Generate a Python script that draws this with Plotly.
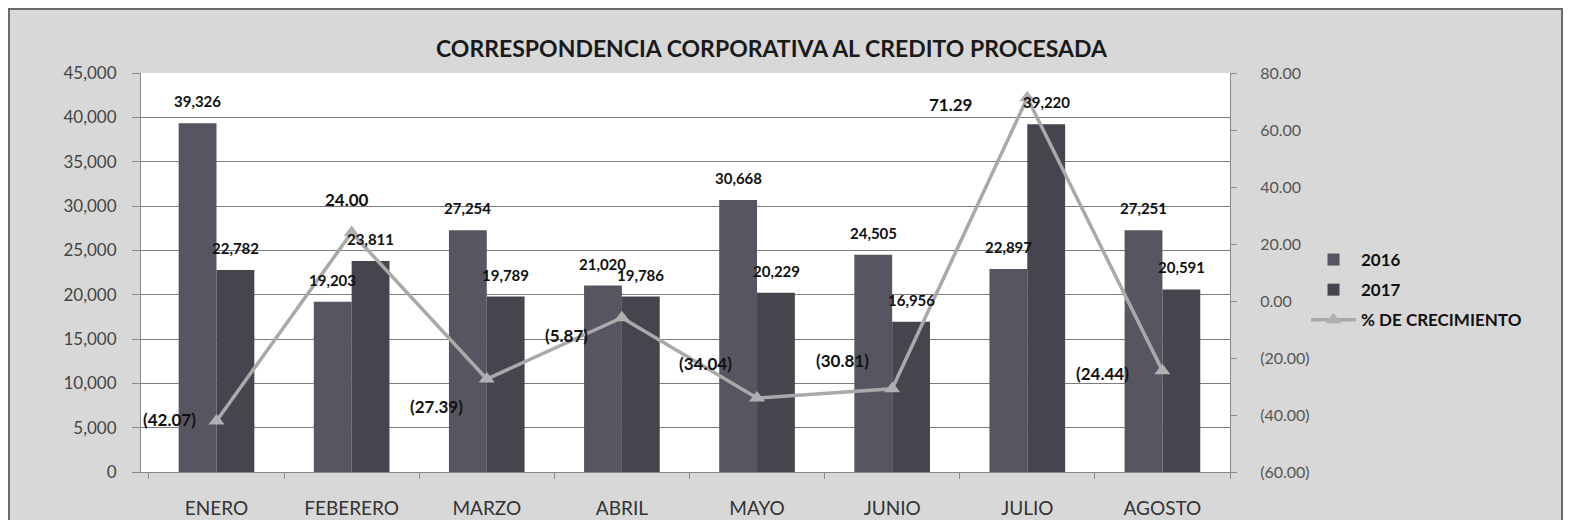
import plotly.graph_objects as go

months = ["ENERO", "FEBERERO", "MARZO", "ABRIL", "MAYO", "JUNIO", "JULIO", "AGOSTO"]
v2016 = [39326, 19203, 27254, 21020, 30668, 24505, 22897, 27251]
v2017 = [22782, 23811, 19789, 19786, 20229, 16956, 39220, 20591]
growth = [-42.07, 24.00, -27.39, -5.87, -34.04, -30.81, 71.29, -24.44]
left_ticks = list(range(0, 45001, 5000))
right_ticks = list(range(-60, 81, 20))

FONT = "Lato, 'Open Sans', sans-serif"
W, H = 1555, 512
L, R, T, B = 133, 1222, 65, 464


def px_x(p):
    return (p - L) / (R - L)


def px_y(p):
    return (B - p) / (B - T)


def fmt_pct(v):
    return f"({abs(v):.2f})" if v < 0 else f"{v:.2f}"


fig = go.Figure()
fig.add_trace(go.Bar(x=months, y=v2016, name="2016", legendgroup="a",
                     marker=dict(color="#57555f", line=dict(width=0))))
fig.add_trace(go.Bar(x=months, y=v2017, name="2017", legendgroup="b",
                     marker=dict(color="#46454e", line=dict(width=0))))
fig.add_trace(go.Scatter(
    x=months, y=growth, name="% DE CRECIMIENTO", yaxis="y2", mode="lines+markers", legendgroup="c",
    line=dict(color="#a9a9a9", width=3.5),
    marker=dict(symbol="triangle-up", size=14, color="#b0b0b0"),
))

annotations = []
label_font = dict(family=FONT, size=15, color="#111111")
for m, a, b in zip(months, v2016, v2017):
    annotations.append(dict(x=m, y=a, xref="x", yref="y", text=f"<b>{a:,}</b>", showarrow=False,
                            xshift=-19, yshift=22, font=label_font))
    annotations.append(dict(x=m, y=b, xref="x", yref="y", text=f"<b>{b:,}</b>", showarrow=False,
                            xshift=19, yshift=22, font=label_font))

# offsets (pixels) for line labels, per point
line_dx = [-47, -5, -50, -55, -52, -50, -77, -60]
line_dy = [1, 33, -27, -18, 35, 28, -7, -3]
for m, g, dx, dy in zip(months, growth, line_dx, line_dy):
    annotations.append(dict(x=m, y=g, xref="x", yref="y2", text=f"<b>{fmt_pct(g)}</b>", showarrow=False,
                            xshift=dx, yshift=dy, font=dict(family=FONT, size=17, color="#111111")))

annotations.append(dict(x=px_x(764), y=px_y(40), xref="paper", yref="paper", showarrow=False,
                        xanchor="center", yanchor="middle",
                        text="<b>CORRESPONDENCIA CORPORATIVA AL CREDITO PROCESADA</b>",
                        font=dict(family=FONT, size=23, color="#1a1a1a")))

shapes = [
    dict(type="rect", xref="paper", yref="paper", x0=px_x(1), x1=px_x(W - 1), y0=px_y(H + 5), y1=px_y(1),
         fillcolor="rgba(0,0,0,0)", line=dict(color="#6a6a6a", width=2), layer="above"),
]

fig.update_layout(
    width=W, height=H,
    margin=dict(l=L, r=W - R, t=T, b=H - B, pad=0, autoexpand=False),
    paper_bgcolor="#d8d8d8",
    plot_bgcolor="white",
    barmode="group", bargap=0.44, bargroupgap=0.0,
    font=dict(family=FONT, size=16, color="#444444"),
    showlegend=True,
    legend=dict(x=px_x(1298), y=px_y(234), xanchor="left", yanchor="top",
                bgcolor="rgba(0,0,0,0)", font=dict(family=FONT, size=17, color="#111111", weight="bold"),
                tracegroupgap=5, itemwidth=45),
    xaxis=dict(showgrid=False, showline=True, linecolor="#8a8a8a", linewidth=1, automargin=False,
               ticks="outside", tickson="boundaries", ticklen=6, tickcolor="#8a8a8a",
               tickfont=dict(family=FONT, size=19, color="#333333"), ticklabelstandoff=19),
    yaxis=dict(range=[0, 45000], tickvals=left_ticks, ticktext=[f"{v:,}" for v in left_ticks],
               automargin=False,
               showgrid=True, gridcolor="#7c7c7c", gridwidth=1, showline=True, linecolor="#8a8a8a",
               ticks="outside", ticklen=8, tickcolor="#8a8a8a", zeroline=False,
               tickfont=dict(family=FONT, size=17, color="#444444"), ticklabelstandoff=12),
    yaxis2=dict(range=[-60, 80], overlaying="y", side="right", tickvals=right_ticks, automargin=False,
                ticktext=[fmt_pct(v) for v in right_ticks], showgrid=False, zeroline=False,
                showline=True, linecolor="#8a8a8a", ticks="outside", ticklen=6, tickcolor="#8a8a8a",
                tickfont=dict(family=FONT, size=16, color="#555555"), ticklabelstandoff=20),
    annotations=annotations,
    shapes=shapes,
)

fig.write_html("out.html")
